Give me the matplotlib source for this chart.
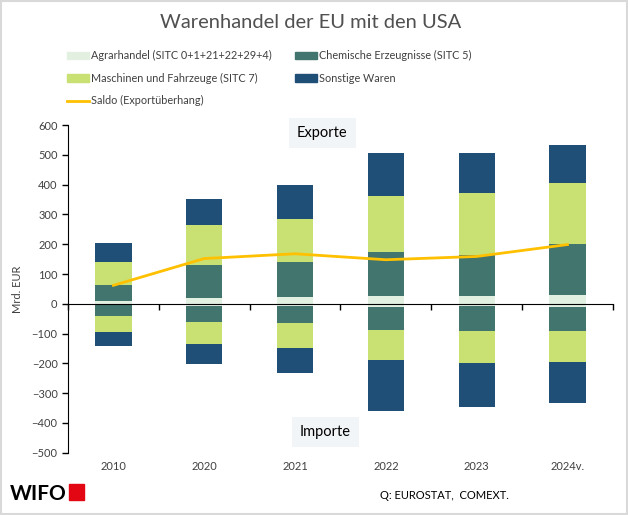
import matplotlib.pyplot as plt
from matplotlib.patches import Rectangle
from matplotlib.lines import Line2D
from matplotlib.transforms import blended_transform_factory

plt.rcParams['font.family'] = ['Lato', 'DejaVu Sans']

years = ['2010', '2020', '2021', '2022', '2023', '2024v.']

# Exporte (Mrd. EUR)
exp_agrar = [10, 20, 24, 27, 27, 31]
exp_chem = [52, 111, 117, 148, 138, 171]
exp_masch = [80, 135, 145, 188, 208, 205]
exp_sonst = [61, 87, 114, 145, 132, 125]

# Importe (Mrd. EUR, negativ)
imp_agrar = [-5, -9, -9, -12, -9, -12]
imp_chem = [-35, -51, -57, -76, -82, -79]
imp_masch = [-54, -74, -81, -101, -108, -105]
imp_sonst = [-47, -67, -85, -171, -147, -137]

saldo = [62, 152, 168, 148, 159, 199]

c_agrar = '#E2F0E2'
c_chem = '#41756E'
c_masch = '#C9E073'
c_sonst = '#1F4E76'
c_saldo = '#FFC000'
grey = '#404040'

fig = plt.figure(figsize=(6.28, 5.15), dpi=100)
ax = fig.add_axes([0.1083, 0.121, 0.8677, 0.636])

x = list(range(len(years)))
w = 0.4

def stack(series, colors):
    bottom = [0] * len(x)
    for s, c in zip(series, colors):
        ax.bar(x, s, w, bottom=bottom, color=c, zorder=2)
        bottom = [b + v for b, v in zip(bottom, s)]

stack([exp_agrar, exp_chem, exp_masch, exp_sonst], [c_agrar, c_chem, c_masch, c_sonst])
stack([imp_agrar, imp_chem, imp_masch, imp_sonst], [c_agrar, c_chem, c_masch, c_sonst])

ax.plot(x, saldo, color=c_saldo, lw=2, zorder=3)

ax.set_xlim(-0.5, 5.5)
ax.set_ylim(-500, 600)
ax.set_yticks(range(-500, 601, 100))
ax.tick_params(axis='y', labelsize=8, colors='black', labelcolor=grey, length=4, width=1)
for s in ['top', 'right']:
    ax.spines[s].set_visible(False)
ax.spines['bottom'].set_position(('data', 0))
ax.spines['bottom'].set_zorder(4)
ax.set_xticks([i - 0.5 for i in range(len(years) + 1)])
ax.set_xticklabels([])
ax.tick_params(axis='x', length=4, width=1, direction='out')

tr = blended_transform_factory(ax.transData, ax.transAxes)
for i, lab in enumerate(years):
    ax.text(i, -0.025, lab, transform=tr, ha='center', va='top', fontsize=8, color=grey)

ax.set_ylabel('Mrd. EUR', fontsize=8, color=grey, labelpad=6)

ax.text(2.3, 575, 'Exporte', ha='center', va='center', fontsize=10.5, color='black',
        bbox=dict(boxstyle='square,pad=0.55', fc='#F2F5F7', ec='none'), zorder=5)
ax.text(2.33, -430, 'Importe', ha='center', va='center', fontsize=10.5, color='black',
        bbox=dict(boxstyle='square,pad=0.55', fc='#F2F5F7', ec='none'), zorder=5)

fig.text(0.495, 0.957, 'Warenhandel der EU mit den USA', ha='center', va='center',
         fontsize=14.5, color='#505050')

handles = [
    Rectangle((0, 0), 1, 1, color=c_agrar),
    Rectangle((0, 0), 1, 1, color=c_masch),
    Line2D([], [], color=c_saldo, lw=2),
    Rectangle((0, 0), 1, 1, color=c_chem),
    Rectangle((0, 0), 1, 1, color=c_sonst),
]
labels = ['Agrarhandel (SITC 0+1+21+22+29+4)', 'Maschinen und Fahrzeuge (SITC 7)',
          'Saldo (Exportüberhang)', 'Chemische Erzeugnisse (SITC 5)', 'Sonstige Waren']
leg = fig.legend(handles, labels, ncol=2, loc='upper left', bbox_to_anchor=(0.091, 0.921),
                 frameon=False, fontsize=7.8, handlelength=2.0, handleheight=0.7,
                 handletextpad=0.2, columnspacing=2.2, labelspacing=1.05)
for t in leg.get_texts():
    t.set_color(grey)

# Logo und Quelle
fig.text(0.016, 0.030, 'WIFO', fontsize=15, fontweight='bold', color='black', va='baseline')
fig.patches.append(Rectangle((0.110, 0.030), 0.024, 0.031, transform=fig.transFigure,
                             color='#E30613'))
fig.text(0.708, 0.032, 'Q: EUROSTAT,  COMEXT.', fontsize=8, color='black', ha='center')

fig.patches.append(Rectangle((0.001, 0.001), 0.997, 0.997, transform=fig.transFigure,
                             fill=False, ec='#D9D9D9', lw=1.5))

fig.savefig('out.png', dpi=100)
